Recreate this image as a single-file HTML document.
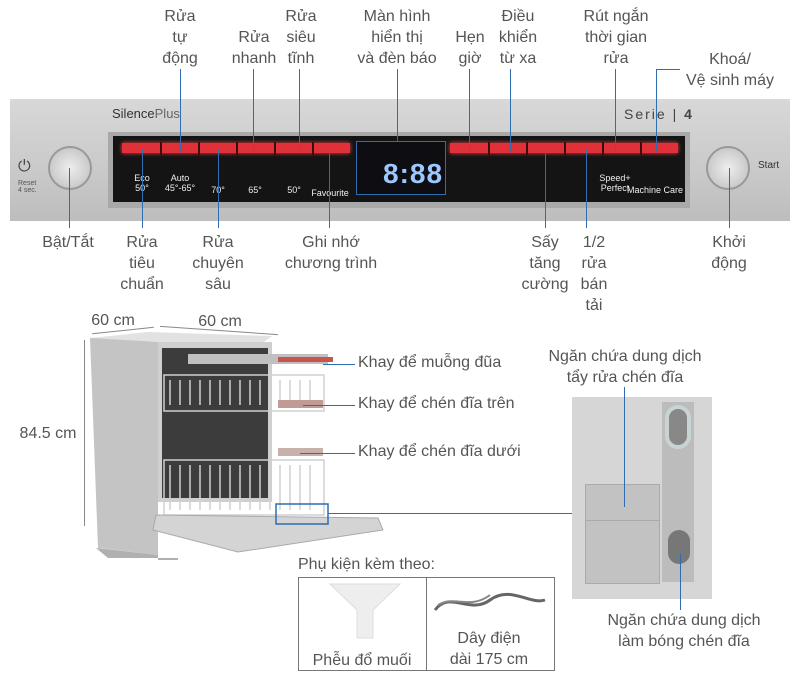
<!DOCTYPE html>
<html><head><meta charset="utf-8"><style>
*{margin:0;padding:0;box-sizing:border-box}
body{width:800px;height:674px;background:#fff;position:relative;overflow:hidden;font-family:"Liberation Sans",sans-serif;color:#555}
.t{position:absolute;font-size:16px;line-height:21px;text-align:center;white-space:nowrap;transform:translateX(-50%)}
.l{position:absolute;background:#2f6db0}
.a{position:absolute}
.btxt{position:absolute;color:#eee;font-size:9px;text-align:center;transform:translateX(-50%);line-height:10px}
.dv{position:absolute;top:142px;width:2px;height:14px;background:#3a0d0d}
</style></head><body>
<!-- panel -->
<div class="a" style="left:10px;top:99px;width:780px;height:122px;background:linear-gradient(#d8d8d8,#c9c9c9 60%,#bdbdbd);"></div>
<div class="a" style="left:108px;top:132px;width:582px;height:76px;background:#a9a9a9"></div>
<div class="a" style="left:113px;top:136px;width:572px;height:66px;background:#141414"></div>
<div class="a" style="left:122px;top:143px;width:228px;height:10px;background:#e0303a;box-shadow:0 0 4px #f44"></div>
<div class="a" style="left:450px;top:143px;width:228px;height:10px;background:#e0303a;box-shadow:0 0 4px #f44"></div>
<div class="dv" style="left:160px"></div><div class="dv" style="left:198px"></div><div class="dv" style="left:236px"></div><div class="dv" style="left:274px"></div><div class="dv" style="left:312px"></div>
<div class="dv" style="left:488px"></div><div class="dv" style="left:526px"></div><div class="dv" style="left:564px"></div><div class="dv" style="left:602px"></div><div class="dv" style="left:640px"></div>
<div class="a" style="left:356px;top:141px;width:90px;height:54px;border:1px solid #2f6db0;background:#0d0d12"></div>
<div class="a" style="left:383px;top:158px;font-size:28px;color:#9cc8ff;font-weight:bold;letter-spacing:1px">8:88</div>
<div class="a" style="left:112px;top:106px;font-size:13px;color:#333">Silence<span style="color:#666">Plus</span></div>
<div class="a" style="left:624px;top:106px;font-size:14px;color:#444;letter-spacing:2px">Serie | <b>4</b></div>
<div class="btxt" style="left:142px;top:173px">Eco<br>50°</div>
<div class="btxt" style="left:180px;top:173px">Auto<br>45°-65°</div>
<div class="btxt" style="left:218px;top:185px">70°</div>
<div class="btxt" style="left:255px;top:185px">65°</div>
<div class="btxt" style="left:294px;top:185px">50°</div>
<div class="btxt" style="left:330px;top:188px">Favourite</div>
<div class="btxt" style="left:615px;top:173px">Speed+<br>Perfect</div>
<div class="btxt" style="left:655px;top:185px">Machine Care</div>
<div class="a" style="left:48px;top:146px;width:44px;height:44px;border-radius:50%;background:radial-gradient(#eee,#bbb);border:2px solid #999"></div>
<div class="a" style="left:706px;top:146px;width:44px;height:44px;border-radius:50%;background:radial-gradient(#eee,#bbb);border:2px solid #999"></div>
<div class="a" style="left:758px;top:160px;font-size:10px;color:#333">Start</div>
<div class="a" style="left:18px;top:158px;font-size:16px;color:#444">⏻</div>
<div class="a" style="left:18px;top:180px;font-size:7px;color:#555">Reset<br>4 sec.</div>
<!-- top labels & lines -->
<div class="t" style="left:180px;top:6px">Rửa<br>tự<br>động</div><div class="l" style="left:180px;top:69px;width:1px;height:83px"></div>
<div class="t" style="left:254px;top:27px">Rửa<br>nhanh</div><div class="l" style="left:253px;top:69px;width:1px;height:83px"></div>
<div class="t" style="left:301px;top:6px">Rửa<br>siêu<br>tĩnh</div><div class="l" style="left:299px;top:69px;width:1px;height:83px"></div>
<div class="t" style="left:397px;top:6px">Màn hình<br>hiển thị<br>và đèn báo</div><div class="l" style="left:397px;top:69px;width:1px;height:72px"></div>
<div class="t" style="left:470px;top:27px">Hẹn<br>giờ</div><div class="l" style="left:469px;top:69px;width:1px;height:83px"></div>
<div class="t" style="left:518px;top:6px">Điều<br>khiển<br>từ xa</div><div class="l" style="left:510px;top:69px;width:1px;height:83px"></div>
<div class="t" style="left:616px;top:6px">Rút ngắn<br>thời gian<br>rửa</div><div class="l" style="left:615px;top:69px;width:1px;height:83px"></div>
<div class="t" style="left:730px;top:49px">Khoá/<br>Vệ sinh máy</div><div class="l" style="left:656px;top:69px;width:1px;height:83px"></div><div class="l" style="left:656px;top:69px;width:24px;height:1px"></div>
<!-- bottom labels -->
<div class="l" style="left:69px;top:168px;width:1px;height:60px"></div><div class="t" style="left:68px;top:232px">Bật/Tắt</div>
<div class="l" style="left:142px;top:150px;width:1px;height:78px"></div><div class="t" style="left:142px;top:232px">Rửa<br>tiêu<br>chuẩn</div>
<div class="l" style="left:218px;top:150px;width:1px;height:78px"></div><div class="t" style="left:218px;top:232px">Rửa<br>chuyên<br>sâu</div>
<div class="l" style="left:329px;top:150px;width:1px;height:78px"></div><div class="t" style="left:331px;top:232px">Ghi nhớ<br>chương trình</div>
<div class="l" style="left:545px;top:150px;width:1px;height:78px"></div><div class="t" style="left:545px;top:232px">Sấy<br>tăng<br>cường</div>
<div class="l" style="left:586px;top:150px;width:1px;height:78px"></div><div class="t" style="left:594px;top:232px">1/2<br>rửa<br>bán<br>tải</div>
<div class="l" style="left:729px;top:168px;width:1px;height:60px"></div><div class="t" style="left:729px;top:232px">Khởi<br>động</div>
<!-- dishwasher -->
<div class="t" style="left:113px;top:310px">60 cm</div>
<div class="t" style="left:220px;top:311px">60 cm</div>
<div class="a" style="left:92px;top:330px;width:62px;height:1px;background:#888;transform:rotate(-6deg)"></div>
<div class="a" style="left:160px;top:330px;width:118px;height:1px;background:#888;transform:rotate(4deg)"></div>
<div class="a" style="left:84px;top:340px;width:1px;height:186px;background:#888"></div>
<div class="t" style="left:48px;top:423px">84.5 cm</div>
<svg class="a" style="left:88px;top:330px" width="300" height="230">
<polygon points="2,8 70,6 70,225 10,218" fill="#c4c4c4"/>
<polygon points="2,8 60,2 184,6 176,12 70,12" fill="#e2e2e2"/>
<rect x="70" y="12" width="114" height="160" fill="#cfcfcf"/>
<rect x="74" y="18" width="106" height="150" fill="#3c3c3c"/>
<g stroke="#d0d0d0" stroke-width="1.5" fill="none">
<rect x="76" y="45" width="160" height="36"/><rect x="76" y="130" width="160" height="55"/>
<path d="M82,50v25M92,50v25M102,50v25M112,50v25M122,50v25M132,50v25M142,50v25M152,50v25M162,50v25M172,50v25M182,50v25M192,50v25M202,50v25M212,50v25M222,50v25"/>
<path d="M82,135v45M92,135v45M102,135v45M112,135v45M122,135v45M132,135v45M142,135v45M152,135v45M162,135v45M172,135v45M182,135v45M192,135v45M202,135v45M212,135v45M222,135v45"/>
</g>
<rect x="100" y="24" width="140" height="10" fill="#c0c0c0"/>
<rect x="190" y="27" width="55" height="5" fill="#c8554a"/>
<rect x="190" y="70" width="45" height="8" fill="#c09a94"/>
<rect x="190" y="118" width="45" height="8" fill="#c8b0ab"/>
<polygon points="8,218 70,225 70,232 90,232 90,228 20,228" fill="#b0b0b0"/>
<polygon points="68,185 290,188 295,200 150,222 65,200" fill="#d4d4d4" stroke="#aaa"/>
<rect x="188" y="174" width="52" height="20" fill="none" stroke="#2f6db0" stroke-width="1.5"/>
</svg>
<div class="l" style="left:323px;top:364px;width:32px;height:1px"></div><div class="a" style="left:358px;top:354px;font-size:16px">Khay để muỗng đũa</div>
<div class="l" style="left:303px;top:405px;width:52px;height:1px"></div><div class="a" style="left:358px;top:395px;font-size:16px">Khay để chén đĩa trên</div>
<div class="l" style="left:300px;top:453px;width:55px;height:1px"></div><div class="a" style="left:358px;top:443px;font-size:16px">Khay để chén đĩa dưới</div>
<div class="l" style="left:328px;top:513px;width:244px;height:1px"></div>
<!-- dispenser -->
<div class="t" style="left:625px;top:346px">Ngăn chứa dung dịch<br>tẩy rửa chén đĩa</div>
<div class="a" style="left:572px;top:397px;width:140px;height:202px;background:#d6d6d6"></div>
<div class="a" style="left:585px;top:484px;width:75px;height:100px;background:#c2c2c2;border:1px solid #aaa"></div>
<div class="a" style="left:585px;top:520px;width:75px;height:1px;background:#aaa"></div>
<div class="a" style="left:662px;top:402px;width:32px;height:180px;background:#bcbcbc"></div>
<div class="a" style="left:665px;top:405px;width:26px;height:44px;border-radius:13px;border:4px solid #c8d4d4;background:#888"></div>
<div class="a" style="left:668px;top:530px;width:22px;height:34px;border-radius:11px;background:#777"></div>
<div class="l" style="left:624px;top:387px;width:1px;height:120px"></div>
<div class="l" style="left:680px;top:554px;width:1px;height:56px"></div>
<div class="t" style="left:684px;top:610px">Ngăn chứa dung dịch<br>làm bóng chén đĩa</div>
<!-- accessories -->
<div class="a" style="left:298px;top:556px;font-size:16px">Phụ kiện kèm theo:</div>
<div class="a" style="left:298px;top:577px;width:257px;height:94px;border:1px solid #777"></div>
<div class="a" style="left:426px;top:577px;width:1px;height:94px;background:#777"></div>
<svg class="a" style="left:325px;top:580px" width="80" height="60"><polygon points="5,4 75,4 48,30 48,58 32,58 32,30" fill="#eee" stroke="#ddd"/></svg>
<svg class="a" style="left:430px;top:585px" width="120" height="40"><path d="M5,25 C20,5 40,30 60,15 S100,20 115,15" stroke="#666" stroke-width="3" fill="none"/><path d="M8,20 C25,10 40,25 60,10" stroke="#888" stroke-width="2" fill="none"/></svg>
<div class="t" style="left:362px;top:650px">Phễu đổ muối</div>
<div class="t" style="left:489px;top:628px">Dây điện<br>dài 175 cm</div>
</body></html>
